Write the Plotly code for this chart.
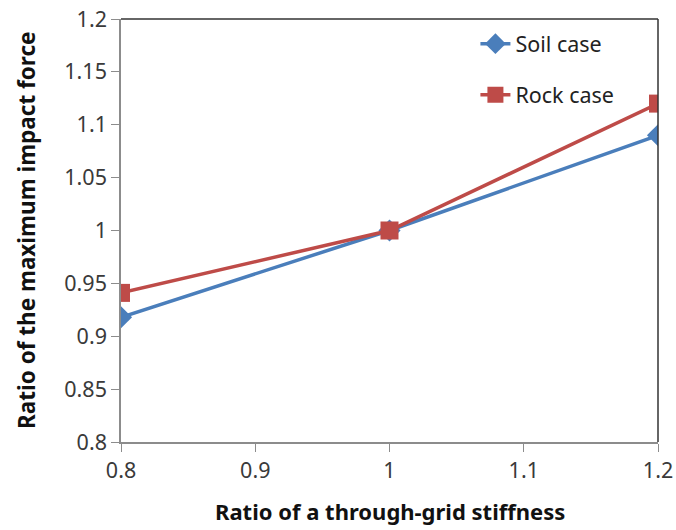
import plotly.graph_objects as go

x_vals = [0.8, 1.0, 1.2]
soil = [0.918, 1.0, 1.09]
rock = [0.941, 1.0, 1.12]
x_ticks = [0.8, 0.9, 1.0, 1.1, 1.2]
x_labels = ["0.8", "0.9", "1", "1.1", "1.2"]
y_ticks = [0.8, 0.85, 0.9, 0.95, 1.0, 1.05, 1.1, 1.15, 1.2]
y_labels = ["0.8", "0.85", "0.9", "0.95", "1", "1.05", "1.1", "1.15", "1.2"]

fig = go.Figure()
fig.add_trace(go.Scatter(x=x_vals, y=soil, mode="lines+markers", name="Soil case",
                         legendgroup="a",
                         line=dict(color="#4a7ebb", width=3.5),
                         marker=dict(symbol="diamond", size=17, color="#4a7ebb")))
fig.add_trace(go.Scatter(x=x_vals, y=rock, mode="lines+markers", name="Rock case",
                         legendgroup="b",
                         line=dict(color="#be4b48", width=3.5),
                         marker=dict(symbol="square", size=18, color="#be4b48")))

font = "Noto Sans, Liberation Sans, sans-serif"
fig.update_layout(
    width=676, height=530,
    margin=dict(l=121, r=18, t=19, b=88),
    paper_bgcolor="white", plot_bgcolor="white",
    font=dict(family=font, size=21, color="#333"),
    showlegend=True,
    legend=dict(x=0.66, y=0.99, xanchor="left", yanchor="top",
                font=dict(size=21.5, color="#222"), tracegroupgap=20,
                bgcolor="rgba(0,0,0,0)"),
    xaxis=dict(range=[0.8, 1.2], tickvals=x_ticks, ticktext=x_labels,
               showgrid=False, zeroline=False, automargin=False,
               showline=True, linecolor="#8c8c8c", linewidth=1.5,
               ticks="outside", ticklen=8, tickcolor="#8c8c8c",
               tickfont=dict(size=21.5, color="#3a3a3a")),
    yaxis=dict(range=[0.8, 1.2], tickvals=y_ticks, ticktext=y_labels,
               showgrid=False, zeroline=False, automargin=False,
               showline=True, linecolor="#8c8c8c", linewidth=1.5,
               ticks="outside", ticklen=8, tickcolor="#8c8c8c",
               tickfont=dict(size=21.5, color="#3a3a3a")),
)
fig.add_annotation(text="<b>Ratio of a through-grid stiffness</b>", xref="paper", yref="paper",
                   x=0.5, y=-0.163, xanchor="center", yanchor="middle", showarrow=False,
                   font=dict(size=22, color="#111"))
fig.add_annotation(text="<b>Ratio of the maximum impact force</b>", xref="paper", yref="paper",
                   x=-0.176, y=0.5, xanchor="center", yanchor="middle", showarrow=False,
                   textangle=-90, font=dict(size=22.5, color="#111"))
# top and right frame lines (darker)
fig.add_shape(type="line", xref="paper", yref="paper", x0=0, x1=1, y0=1, y1=1,
              line=dict(color="#333", width=1.5))
fig.add_shape(type="line", xref="paper", yref="paper", x0=1, x1=1, y0=0, y1=1,
              line=dict(color="#333", width=1.5))

fig.write_html("out.html")
